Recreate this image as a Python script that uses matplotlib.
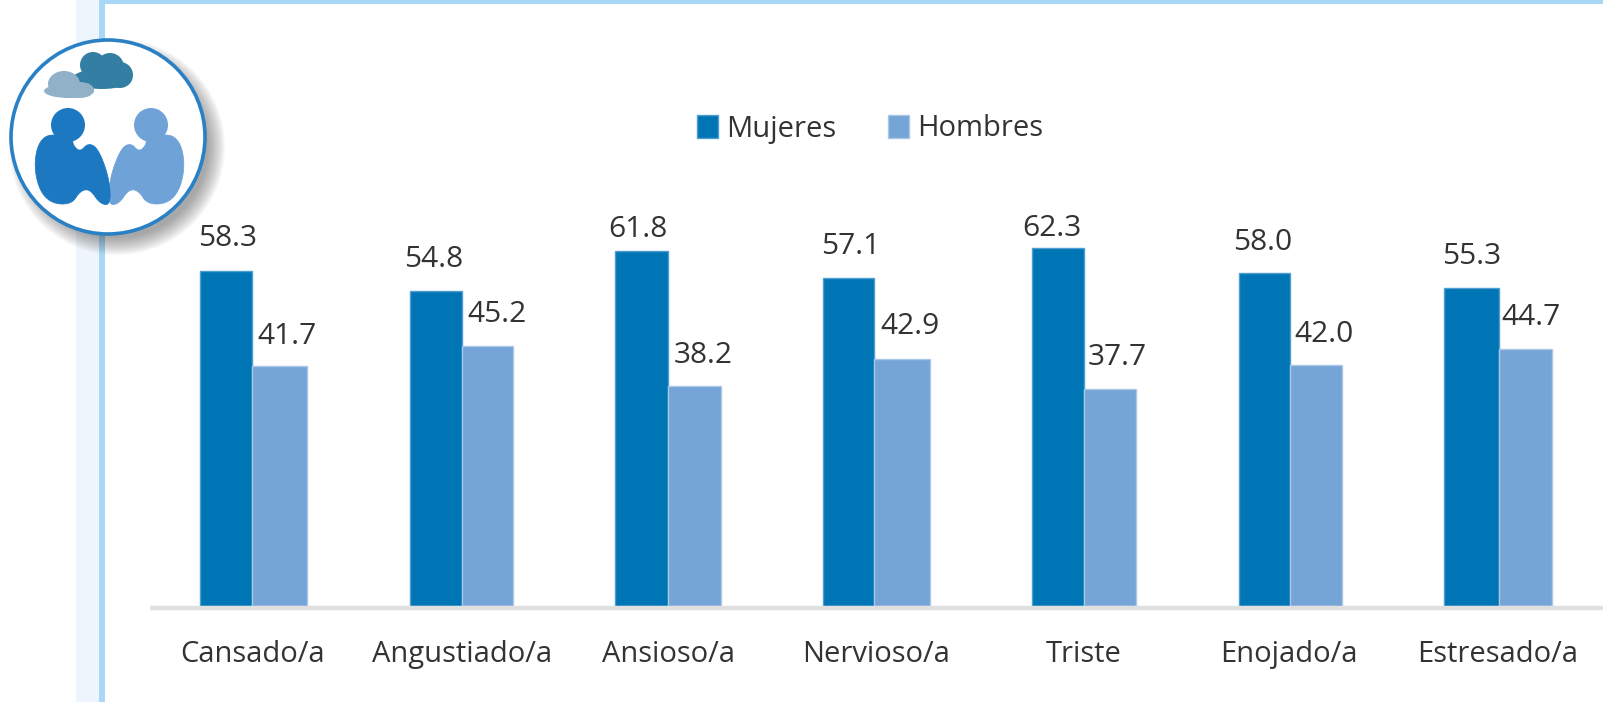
import matplotlib
matplotlib.use("Agg")
import matplotlib.pyplot as plt
from matplotlib.patches import Circle, Ellipse, Polygon, Rectangle

W, H = 1603, 702
BASE_Y = 606
PX_PER_UNIT = 5.75

CATEGORIES = ["Cansado/a", "Angustiado/a", "Ansioso/a", "Nervioso/a", "Triste", "Enojado/a", "Estresado/a"]
MUJERES = [58.3, 54.8, 61.8, 57.1, 62.3, 58.0, 55.3]
HOMBRES = [41.7, 45.2, 38.2, 42.9, 37.7, 42.0, 44.7]

# pixel layout of the groups (the original is not evenly spaced)
BAR_LEFT = [200, 410, 615, 823, 1032, 1239, 1444]
BAR_MID = [252, 462, 668, 874, 1084, 1290, 1499]
BAR_RIGHT = [307, 513, 721, 930, 1136, 1342, 1552]
LABEL_X = [253, 462, 668, 876, 1084, 1289, 1498]
# hand offsets of the value labels, px
MUJ_DX = [2, -2, -4, 2, -6, -2, 0]
MUJ_DY = [25, 24, 14, 24, 12, 23, 24]
HOM_DX = [8, 9, 9, 8, 7, 8, 5]
HOM_DY = [22, 24, 23, 25, 24, 23, 24]

C_MUJ = "#0075b6"
C_HOM = "#75a5d6"
C_TEXT = "#333333"

plt.rcParams["font.family"] = ["Open Sans", "DejaVu Sans"]


def smooth(pts, rounds=3):
    # corner cutting, only to round off the icon silhouette
    for _ in range(rounds):
        out = []
        for i, (x0, y0) in enumerate(pts):
            x1, y1 = pts[(i + 1) % len(pts)]
            out.append((0.75 * x0 + 0.25 * x1, 0.75 * y0 + 0.25 * y1))
            out.append((0.25 * x0 + 0.75 * x1, 0.25 * y0 + 0.75 * y1))
        pts = out
    return pts


fig = plt.figure(figsize=(W / 100, H / 100), dpi=100)

# background frame, in pixel coordinates
bg = fig.add_axes([0, 0, 1, 1], zorder=0)
bg.set_xlim(0, W)
bg.set_ylim(H, 0)
bg.axis("off")
bg.add_patch(Rectangle((76, 0), 23, H, color="#eff5fc", lw=0))
bg.add_patch(Rectangle((99, 0), 6, H, color="#a8d8f5", lw=0))
bg.add_patch(Rectangle((99, 0), W - 99, 4, color="#a8d8f5", lw=0))

# main chart
ax = fig.add_axes([150 / W, (H - BASE_Y) / H, (W - 150) / W, BASE_Y / H], zorder=1)
ax.patch.set_alpha(0)
ax.set_xlim(150, W)
ax.set_ylim(0, BASE_Y / PX_PER_UNIT)

muj_w = [m - l for l, m in zip(BAR_LEFT, BAR_MID)]
hom_w = [r - m for m, r in zip(BAR_MID, BAR_RIGHT)]
muj_x = [l + w / 2 for l, w in zip(BAR_LEFT, muj_w)]
hom_x = [m + w / 2 for m, w in zip(BAR_MID, hom_w)]

b1 = ax.bar(muj_x, MUJERES, width=muj_w, color=C_MUJ, edgecolor="#4f9fd0", linewidth=1, label="Mujeres")
b2 = ax.bar(hom_x, HOMBRES, width=hom_w, color=C_HOM, edgecolor="#a9c8e8", linewidth=1, label="Hombres")

for i in range(len(CATEGORIES)):
    ax.annotate(f"{MUJERES[i]:.1f}", (muj_x[i], MUJERES[i]), xytext=(MUJ_DX[i], MUJ_DY[i]),
                textcoords="offset pixels", ha="center", va="baseline", fontsize=21.5, color=C_TEXT)
    ax.annotate(f"{HOMBRES[i]:.1f}", (hom_x[i], HOMBRES[i]), xytext=(HOM_DX[i], HOM_DY[i]),
                textcoords="offset pixels", ha="center", va="baseline", fontsize=21.5, color=C_TEXT)

for s in ["top", "left", "right"]:
    ax.spines[s].set_visible(False)
ax.spines["bottom"].set_color("#e0e0e0")
ax.spines["bottom"].set_linewidth(3.2)
ax.spines["bottom"].set_position(("outward", 1.6))
ax.spines["bottom"].set_capstyle("butt")
ax.set_yticks([])
ax.set_xticks(LABEL_X, CATEGORIES, fontsize=21, color=C_TEXT)
ax.tick_params(axis="x", length=0, pad=23)

ax.legend(handles=[b1, b2], loc="center", bbox_to_anchor=(870 / W, (H - 129) / H),
          bbox_transform=fig.transFigure, ncols=2, frameon=False, fontsize=21,
          labelcolor=C_TEXT, handlelength=0.72, handleheight=0.8,
          handletextpad=0.3, columnspacing=1.75)

# icon on top of everything
ic = fig.add_axes([0, 0, 1, 1], zorder=2)
ic.set_xlim(0, W)
ic.set_ylim(H, 0)
ic.axis("off")

for k in range(14):
    ic.add_patch(Circle((117, 147), 108 - k * 1.3, color="#303030", alpha=0.035, lw=0))
ic.add_patch(Circle((108, 137), 97, facecolor="white", edgecolor="#2a80c5", lw=2.6))

# clouds
for xy, w, h in [((93, 65), 26, 26), ((110, 67), 28, 28), ((120, 75), 26, 26), ((102, 79), 60, 20)]:
    ic.add_patch(Ellipse(xy, w, h, color="#337ea3", lw=0))
for xy, w, h in [((64, 84), 32, 26), ((80, 90), 28, 16), ((69, 91), 50, 14)]:
    ic.add_patch(Ellipse(xy, w, h, color="#90b1c8", lw=0))

# the two people, the right one mirrors the left
BODY = [(73, 140), (50, 133), (38, 143), (34, 167), (40, 192), (53, 204), (72, 204),
        (80, 191), (90, 189), (100, 204), (111, 205), (109, 177), (98, 148), (88, 143),
        (80, 152), (73, 145)]
for color, flip in [("#6fa3d8", True), ("#1c78c0", False)]:
    pts = smooth([(219 - x, y) if flip else (x, y) for x, y in BODY])
    ic.add_patch(Polygon(pts, closed=True, facecolor=color, edgecolor=color, lw=0.5))
    ic.add_patch(Circle((151 if flip else 68, 125), 17, color=color, lw=0))

fig.savefig("out.png", dpi=100)
